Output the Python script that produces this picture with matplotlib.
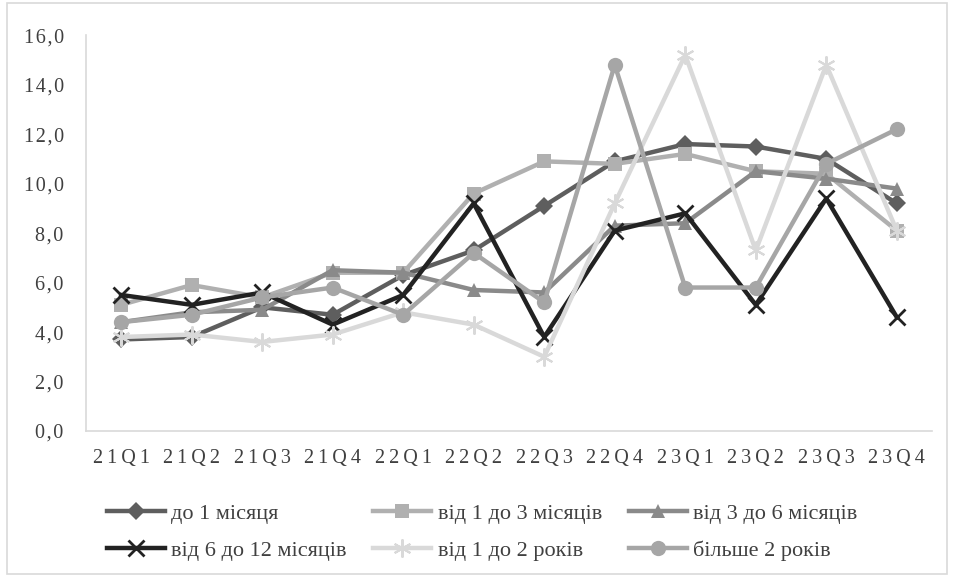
import matplotlib.pyplot as plt
from matplotlib.patches import Rectangle

plt.rcParams['font.family'] = ['Liberation Serif', 'DejaVu Serif']

quarters = ['21Q1', '21Q2', '21Q3', '21Q4', '22Q1', '22Q2',
            '22Q3', '22Q4', '23Q1', '23Q2', '23Q3', '23Q4']

up_to_1m = [3.7, 3.8, 5.0, 4.7, 6.3, 7.3, 9.1, 10.9, 11.6, 11.5, 11.0, 9.2]
m1_to_3 = [5.1, 5.9, 5.4, 6.4, 6.4, 9.6, 10.9, 10.8, 11.2, 10.5, 10.4, 8.1]
m3_to_6 = [4.4, 4.8, 4.9, 6.5, 6.4, 5.7, 5.6, 8.3, 8.4, 10.5, 10.2, 9.8]
m6_to_12 = [5.5, 5.1, 5.6, 4.3, 5.5, 9.2, 3.8, 8.1, 8.8, 5.1, 9.4, 4.6]
y1_to_2 = [3.8, 3.9, 3.6, 3.9, 4.8, 4.3, 3.0, 9.2, 15.2, 7.3, 14.8, 8.1]
over_2y = [4.4, 4.7, 5.4, 5.8, 4.7, 7.2, 5.2, 14.8, 5.8, 5.8, 10.8, 12.2]

series = [
    ('до 1 місяця', up_to_1m, '#5e5e5e', 'D', 9, 0),
    ('від 1 до 3 місяців', m1_to_3, '#b0b0b0', 's', 10, 0),
    ('від 3 до 6 місяців', m3_to_6, '#8a8a8a', '^', 10, 0),
    ('від 6 до 12 місяців', m6_to_12, '#222222', 'x', 12, 2),
    ('від 1 до 2 років', y1_to_2, '#d9d9d9', (6, 2, 0), 13, 1.5),
    ('більше 2 років', over_2y, '#a6a6a6', 'o', 11, 0),
]

fig = plt.figure(figsize=(9.54, 5.77), dpi=100)
ax = fig.add_axes([0.090, 0.253, 0.887, 0.686])

x = range(len(quarters))
lines = []
for label, vals, color, marker, ms, mew in series:
    ln, = ax.plot(x, vals, color=color, lw=3.2, marker=marker, markersize=ms,
                  markeredgewidth=mew, markeredgecolor=color,
                  markerfacecolor=color, label=label)
    lines.append(ln)

ax.set_ylim(0, 16)
ax.set_xlim(-0.5, len(quarters) - 0.5)
ax.set_yticks(range(0, 17, 2))
ax.set_yticklabels(['\u200a'.join(f'{v:.1f}'.replace('.', ','))
                    for v in range(0, 17, 2)])
ax.set_xticks(list(x))
ax.set_xticklabels(['\u2009'.join(q) for q in quarters])
ax.tick_params(length=0, labelsize=14.5, colors='#404040')
ax.tick_params(axis='y', pad=16)
ax.tick_params(axis='x', pad=13)

for side in ['top', 'right']:
    ax.spines[side].set_visible(False)
for side in ['left', 'bottom']:
    ax.spines[side].set_color('#d9d9d9')
    ax.spines[side].set_linewidth(1.2)

# matplotlib fills legend columns first, reorder so rows read left to right
order = [0, 3, 1, 4, 2, 5]
leg = fig.legend([lines[i] for i in order], [series[i][0] for i in order],
                 loc='upper left', bbox_to_anchor=(0.112, 0.127), ncol=3,
                 frameon=False, fontsize=16, handlelength=2.6,
                 handletextpad=0.3, columnspacing=1.2, labelspacing=0.72,
                 borderpad=0, borderaxespad=0)
for t in leg.get_texts():
    t.set_color('#404040')

fig.patches.append(Rectangle((0.007, 0.005), 0.986, 0.99, transform=fig.transFigure,
                             fill=False, edgecolor='#d9d9d9', lw=1.2))

fig.savefig('out.png', dpi=100)
